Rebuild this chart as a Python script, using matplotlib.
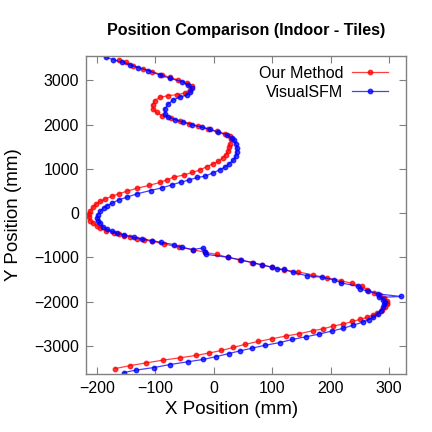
import numpy as np
import matplotlib
matplotlib.use("Agg")
import matplotlib.pyplot as plt

# Our Method (red), bottom to top, mm
our_x = [-168.5, -142.8, -115.4, -86.9, -57.8, -31.4, -8.6, 12.5, 33.1, 52.6,
         75.9, 99.4, 122.9, 145.7, 169.2, 187.4, 204.5, 221.6, 237.1, 250.3,
         261.7, 272.0, 279.9, 287.5, 293.1, 296.0, 296.5, 296.0, 291.9, 284.5,
         274.3, 262.8, 253.2, 236.5, 217.2, 194.2, 169.2, 144.5, 120.5, 98.9,
         82.8, 65.6, 44.6, 24.5, 4.6, -15.4, -36.5, -60.0, -85.7, -105.8,
         -120.0, -131.5, -142.8, -153.1, -162.8, -171.4, -183.9, -194.2, -200.0, -206.9,
         -211.3, -214.3, -214.3, -211.3, -206.9, -201.1, -194.2, -185.6, -174.3, -162.8,
         -148.6, -131.5, -111.4, -92.6, -80.0, -68.6, -51.4, -36.9, -24.0, -12.5,
         -1.2, 7.4, 14.9, 20.6, 24.5, 26.2, 27.4, 29.1, 27.4, 18.9,
         4.6, -9.8, -26.9, -42.9, -58.3, -74.0, -88.3, -98.2, -104.0, -105.1,
         -101.1, -92.6, -78.3, -62.9, -49.7, -41.1, -38.2, -46.8, -61.2, -75.4,
         -89.6, -106.8, -121.2, -138.3, -150.8, -162.3]
our_y = [-3514, -3446, -3385, -3324, -3271, -3219, -3165, -3106, -3038, -2970,
         -2902, -2841, -2780, -2728, -2660, -2615, -2554, -2508, -2450, -2404,
         -2359, -2305, -2259, -2192, -2117, -2056, -2026, -1992, -1924, -1852,
         -1800, -1732, -1657, -1589, -1528, -1467, -1399, -1331, -1286, -1223,
         -1173, -1121, -1057, -1003, -935, -887, -826, -774, -697, -638,
         -607, -577, -548, -509, -471, -441, -396, -335, -290, -231,
         -170, -95, -18, 57, 131, 208, 267, 321, 380, 435,
         494, 561, 623, 691, 752, 811, 860, 917, 973, 1046,
         1114, 1166, 1241, 1318, 1399, 1490, 1567, 1664, 1739, 1789,
         1845, 1895, 1963, 2022, 2081, 2139, 2196, 2275, 2350, 2441,
         2540, 2615, 2653, 2676, 2712, 2789, 2880, 2939, 3007, 3068,
         3129, 3197, 3256, 3333, 3407, 3468]

# VisualSFM (blue), bottom to top, mm
vsfm_x = [-153.8, -133.7, -102.3, -74.9, -45.1, -18.0, 4.3, 25.4, 44.6, 64.6,
          87.8, 113.1, 134.0, 157.7, 180.5, 201.7, 221.6, 237.7, 254.5, 265.3,
          273.1, 280.3, 285.9, 289.2, 291.7, 292.6, 289.3, 283.3, 320.5, 281.6,
          264.1, 250.3, 247.3, 218.2, 205.3, 184.6, 158.9, 134.9, 120.3, 108.5,
          98.9, 82.3, 66.3, 45.8, 24.5, -13.7, -14.9, -18.3, -36.5, -55.4,
          -68.6, -91.4, -105.8, -122.9, -137.6, -154.3, -165.8, -174.3, -182.9, -189.8,
          -194.2, -198.3, -200.0, -198.8, -194.2, -188.5, -182.9, -174.3, -162.8, -148.6,
          -131.5, -108.5, -88.6, -71.5, -57.1, -42.0, -28.3, -15.4, -1.2, 10.3,
          18.9, 26.2, 33.1, 37.7, 38.9, 39.9, 37.7, 34.3, 30.3, 21.8,
          7.4, -6.9, -21.1, -38.2, -52.6, -66.8, -78.1, -84.0, -84.0, -78.3,
          -69.8, -58.3, -46.8, -41.1, -38.2, -44.0, -55.4, -75.4, -92.6, -112.6,
          -129.8, -144.0, -156.5, -172.6, -185.1]
vsfm_y = [-3604, -3550, -3491, -3423, -3362, -3308, -3244, -3176, -3115, -3056,
          -2988, -2927, -2857, -2796, -2735, -2667, -2604, -2536, -2468, -2407,
          -2350, -2282, -2207, -2130, -2056, -2015, -1954, -1906, -1886, -1829,
          -1766, -1716, -1659, -1578, -1510, -1453, -1415, -1340, -1275, -1270,
          -1223, -1173, -1121, -1060, -1001, -933, -887, -788, -826, -770,
          -713, -661, -623, -584, -548, -487, -457, -412, -367, -306,
          -226, -170, -109, -34, 41, 118, 170, 222, 299, 358,
          435, 509, 571, 638, 697, 747, 804, 833, 910, 978,
          1037, 1114, 1189, 1286, 1376, 1467, 1567, 1641, 1693, 1770,
          1829, 1890, 1943, 1997, 2056, 2110, 2173, 2237, 2350, 2463,
          2554, 2615, 2667, 2728, 2819, 2893, 2970, 3045, 3120, 3219,
          3287, 3346, 3407, 3468, 3521]

x_ticks = [-200, -100, 0, 100, 200, 300]
y_ticks = [-3000, -2000, -1000, 0, 1000, 2000, 3000]

plt.rcParams['font.family'] = ['Liberation Sans', 'DejaVu Sans']

fig = plt.figure(figsize=(4.32, 4.32), dpi=100)
ax = fig.add_axes([0.199, 0.134, 0.741, 0.736])

ax.plot(our_x, our_y, color='#ff0000', lw=0.9, alpha=0.75, marker='o', ms=3.2,
        mfc='#ff0000', mec='#ff0000', label='Our Method')
ax.plot(vsfm_x, vsfm_y, color='#0000ff', lw=0.9, alpha=0.75, marker='o', ms=3.2,
        mfc='#0000ff', mec='#0000ff', label='VisualSFM')

ax.set_xlim(-219, 329)
ax.set_ylim(-3640, 3545)
ax.set_xticks(x_ticks)
ax.set_yticks(y_ticks)
ax.tick_params(direction='in', top=True, right=True, length=5, width=0.8,
               color='#808080', labelsize=11.5, pad=5)
for s in ax.spines.values():
    s.set_color('#808080')
    s.set_linewidth(1.0)

fig.text(232 / 432, 1 - 410 / 432, 'X Position (mm)', fontsize=13.5, ha='center', va='center')
fig.text(14 / 432, 0.5 - (215 - 216) / 432, 'Y Position (mm)', fontsize=13.5,
         ha='center', va='center', rotation=90)
fig.text(246 / 432, 1 - 30 / 432, 'Position Comparison (Indoor - Tiles)', fontsize=11.6,
         fontweight='bold', ha='center', va='center')

leg = ax.legend(loc='upper right', bbox_to_anchor=(0.964, 0.99), frameon=False,
                fontsize=11.5, markerfirst=False, handlelength=2.25, borderpad=0.4,
                borderaxespad=0.0, labelspacing=0.25, handletextpad=0.55)

fig.savefig('out.png', dpi=100)
